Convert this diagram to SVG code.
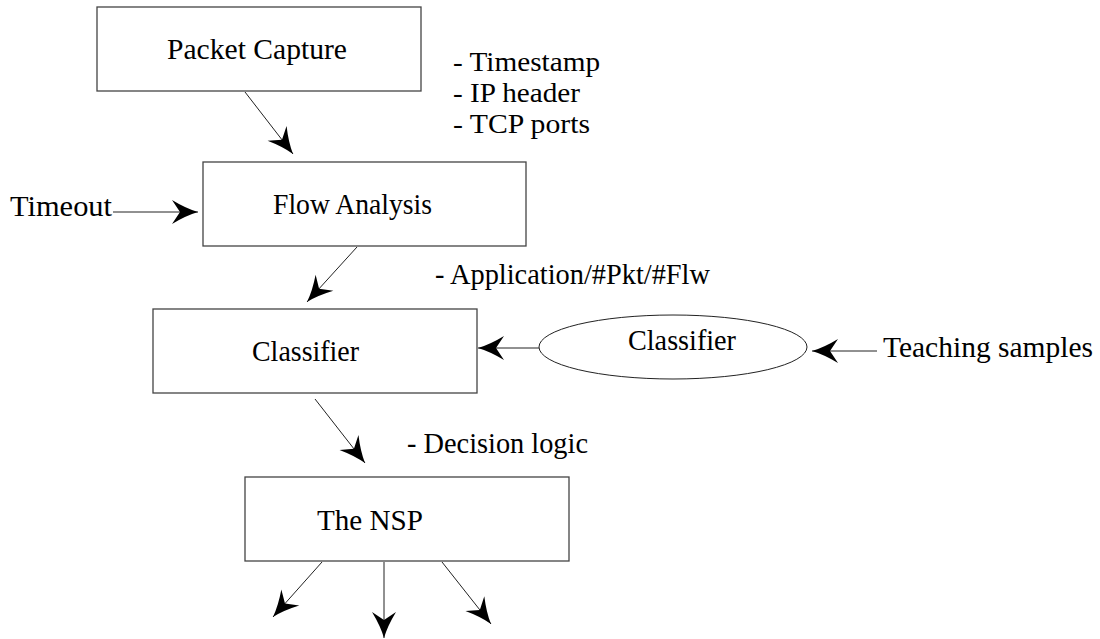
<svg xmlns="http://www.w3.org/2000/svg" width="1100" height="639" viewBox="0 0 1100 639">
<style>
.box{fill:#fff;stroke:#444;stroke-width:1.3}
.ell{fill:#fff;stroke:#222;stroke-width:1}
.t{font-family:"Liberation Serif","Times New Roman",serif;font-size:30px;fill:#000}
.n{font-size:27px}
.c{stroke:#222;stroke-width:1;fill:none;marker-end:url(#ah)}
</style>
<defs>
<marker id="ah" markerUnits="userSpaceOnUse" viewBox="-28 -13 29 26" markerWidth="29" markerHeight="26" refX="0" refY="0" orient="auto">
<path d="M0,0 Q-12,-3.5 -26,-12 L-18,0 L-26,12 Q-12,3.5 0,0 Z" fill="#000"/>
</marker>
</defs>
<rect width="1100" height="639" fill="#fff"/>
<g id="connectors">
<line class="c" x1="245" y1="92" x2="293" y2="154"/>
<line class="c" x1="113" y1="212" x2="198" y2="212"/>
<line class="c" x1="357" y1="247" x2="307" y2="302"/>
<line class="c" x1="315" y1="399" x2="365" y2="463"/>
<line class="c" x1="539" y1="348" x2="478" y2="348"/>
<line class="c" x1="877" y1="351" x2="812" y2="351"/>
<line class="c" x1="322" y1="562" x2="273" y2="617"/>
<line class="c" x1="384" y1="562" x2="384" y2="638"/>
<line class="c" x1="442" y1="562" x2="491" y2="624"/>
</g>
<g id="packet-capture">
<rect class="box" x="97" y="7" width="324" height="84"/>
<text class="t" x="167" y="59" textLength="180" lengthAdjust="spacingAndGlyphs">Packet Capture</text>
</g>
<g id="capture-notes">
<text class="t n" x="453" y="71" textLength="147" lengthAdjust="spacingAndGlyphs">- Timestamp</text>
<text class="t n" x="453" y="102" textLength="127" lengthAdjust="spacingAndGlyphs">- IP header</text>
<text class="t n" x="453" y="133" textLength="137" lengthAdjust="spacingAndGlyphs">- TCP ports</text>
</g>
<g id="timeout">
<text class="t" x="10" y="216" textLength="102" lengthAdjust="spacingAndGlyphs">Timeout</text>
</g>
<g id="flow-analysis">
<rect class="box" x="203" y="162" width="323" height="84"/>
<text class="t" x="273" y="214" textLength="159" lengthAdjust="spacingAndGlyphs">Flow Analysis</text>
</g>
<g id="flow-notes">
<text class="t" x="435" y="284" textLength="275" lengthAdjust="spacingAndGlyphs">- Application/#Pkt/#Flw</text>
</g>
<g id="classifier">
<rect class="box" x="153" y="309" width="324" height="84"/>
<text class="t" x="252" y="361" textLength="107" lengthAdjust="spacingAndGlyphs">Classifier</text>
</g>
<g id="classifier-model">
<ellipse class="ell" cx="673" cy="347" rx="134" ry="32"/>
<text class="t" x="628" y="350" textLength="108" lengthAdjust="spacingAndGlyphs">Classifier</text>
</g>
<g id="teaching-samples">
<text class="t" x="883" y="357" textLength="210" lengthAdjust="spacingAndGlyphs">Teaching samples</text>
</g>
<g id="decision-notes">
<text class="t" x="407" y="453" textLength="181" lengthAdjust="spacingAndGlyphs">- Decision logic</text>
</g>
<g id="nsp">
<rect class="box" x="245" y="477" width="324" height="84"/>
<text class="t" x="317" y="530" textLength="106" lengthAdjust="spacingAndGlyphs">The NSP</text>
</g>
</svg>
